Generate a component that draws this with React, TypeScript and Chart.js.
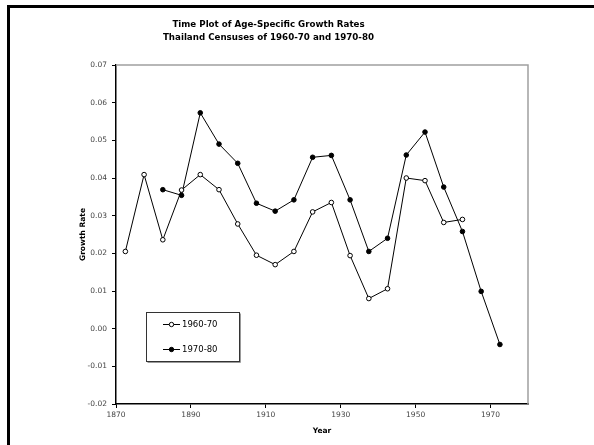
import React, { useEffect, useRef } from "react";
import { Chart, registerables } from "chart.js";

Chart.register(...registerables);

const TITLE_LINES = ["Time Plot of Age-Specific Growth Rates", "Thailand Censuses of 1960-70 and 1970-80"];
const X_TITLE = "Year";
const Y_TITLE = "Growth Rate";
const X_TICKS = [1870, 1890, 1910, 1930, 1950, 1970];

const years6070 = [1872.5, 1877.5, 1882.5, 1887.5, 1892.5, 1897.5, 1902.5, 1907.5, 1912.5, 1917.5, 1922.5, 1927.5, 1932.5, 1937.5, 1942.5, 1947.5, 1952.5, 1957.5, 1962.5];
const rates6070 = [0.0205, 0.0409, 0.0236, 0.0368, 0.0409, 0.0369, 0.0278, 0.0195, 0.0170, 0.0205, 0.0310, 0.0335, 0.0194, 0.0080, 0.0106, 0.0400, 0.0393, 0.0282, 0.0290];

const years7080 = [1882.5, 1887.5, 1892.5, 1897.5, 1902.5, 1907.5, 1912.5, 1917.5, 1922.5, 1927.5, 1932.5, 1937.5, 1942.5, 1947.5, 1952.5, 1957.5, 1962.5, 1967.5, 1972.5];
const rates7080 = [0.0369, 0.0354, 0.0573, 0.0490, 0.0439, 0.0333, 0.0312, 0.0342, 0.0455, 0.0460, 0.0342, 0.0205, 0.0240, 0.0461, 0.0522, 0.0376, 0.0258, 0.0099, -0.0042];

const FONT = "'DejaVu Sans', Verdana, sans-serif";

const decorPlugin = {
  id: "decor",
  beforeDraw(chart: any) {
    const ctx = chart.ctx;
    ctx.save();
    ctx.fillStyle = "#ffffff";
    ctx.fillRect(0, 0, chart.width, chart.height);
    ctx.strokeStyle = "#000000";
    ctx.lineWidth = 3;
    ctx.strokeRect(8.5, 6.5, chart.width + 20, chart.height + 20);
    ctx.restore();
  },
  afterDraw(chart: any) {
    const ctx = chart.ctx;
    const a = chart.chartArea;
    ctx.save();
    ctx.strokeStyle = "#a0a0a0";
    ctx.lineWidth = 1.5;
    ctx.beginPath();
    ctx.moveTo(a.left, a.top);
    ctx.lineTo(a.right, a.top);
    ctx.lineTo(a.right, a.bottom);
    ctx.stroke();
    ctx.fillStyle = "#000000";
    ctx.font = `bold 8.7px ${FONT}`;
    ctx.textAlign = "center";
    ctx.textBaseline = "middle";
    ctx.fillText(TITLE_LINES[0], 268.5, 25);
    ctx.fillText(TITLE_LINES[1], 268.5, 38);
    const bx = 146.5, by = 312.5, bw = 93, bh = 49;
    ctx.strokeStyle = "#333333";
    ctx.lineWidth = 1;
    ctx.strokeRect(bx, by, bw, bh);
    ctx.strokeStyle = "#999999";
    ctx.beginPath();
    ctx.moveTo(bx + 1, by + bh + 1);
    ctx.lineTo(bx + bw + 1, by + bh + 1);
    ctx.lineTo(bx + bw + 1, by + 1);
    ctx.stroke();
    const items = chart.data.datasets;
    const rowsY = [324, 349];
    items.forEach((ds: any, i: number) => {
      const y = rowsY[i];
      ctx.strokeStyle = "#000000";
      ctx.lineWidth = 1;
      ctx.beginPath();
      ctx.moveTo(163, y + 0.5);
      ctx.lineTo(180, y + 0.5);
      ctx.stroke();
      ctx.beginPath();
      ctx.arc(171.5, y + 0.5, 2.2, 0, Math.PI * 2);
      ctx.fillStyle = ds.pointBackgroundColor;
      ctx.fill();
      ctx.stroke();
      ctx.fillStyle = "#000000";
      ctx.font = `8.5px ${FONT}`;
      ctx.textAlign = "left";
      ctx.textBaseline = "middle";
      ctx.fillText(ds.label, 182, y + 0.5);
    });
    ctx.restore();
  },
};

export default function App() {
  const ref = useRef<HTMLCanvasElement>(null);
  useEffect(() => {
    document.body.style.margin = "0";
    const chart = new Chart(ref.current as HTMLCanvasElement, {
      type: "line",
      data: {
        datasets: [
          {
            label: "1960-70",
            data: years6070.map((x, i) => ({ x, y: rates6070[i] })),
            borderColor: "#000000",
            borderWidth: 1,
            pointBackgroundColor: "#ffffff",
            pointBorderColor: "#000000",
            pointBorderWidth: 1,
            pointRadius: 2.3,
            tension: 0,
          },
          {
            label: "1970-80",
            data: years7080.map((x, i) => ({ x, y: rates7080[i] })),
            borderColor: "#000000",
            borderWidth: 1,
            pointBackgroundColor: "#000000",
            pointBorderColor: "#000000",
            pointBorderWidth: 1,
            pointRadius: 2.3,
            tension: 0,
          },
        ],
      },
      options: {
        animation: false,
        responsive: false,
        devicePixelRatio: 1,
        layout: { padding: { left: 70, top: 65, right: 66, bottom: 5 } },
        plugins: { legend: { display: false }, tooltip: { enabled: false }, title: { display: false } },
        scales: {
          x: {
            type: "linear",
            min: 1870,
            max: 1980,
            afterBuildTicks: (s: any) => {
              s.ticks = X_TICKS.map((v) => ({ value: v }));
            },
            afterFit: (s: any) => {
              s.height = 36;
            },
            grid: { drawOnChartArea: false, tickLength: 4, color: "#000000", tickWidth: 1 },
            border: { color: "#000000", width: 1.5 },
            ticks: { color: "#444444", font: { family: FONT, size: 7.5 }, padding: 3, maxRotation: 0, callback: (v: any) => String(v) },
            title: { display: true, text: X_TITLE, color: "#000000", font: { family: FONT, size: 7.5, weight: "bold" }, padding: { top: 0, bottom: 4 } },
          },
          y: {
            type: "linear",
            min: -0.02,
            max: 0.07,
            afterBuildTicks: (s: any) => {
              const t = [];
              for (let i = -2; i <= 7; i++) t.push({ value: i / 100 });
              s.ticks = t;
            },
            afterFit: (s: any) => {
              s.width = 46;
            },
            grid: { drawOnChartArea: false, tickLength: 4, color: "#000000", tickWidth: 1 },
            border: { color: "#000000", width: 1.5 },
            ticks: { color: "#444444", font: { family: FONT, size: 7.5 }, padding: 5, callback: (v: any) => Number(v).toFixed(2) },
            title: { display: true, text: Y_TITLE, color: "#000000", font: { family: FONT, size: 7.5, weight: "bold" }, padding: { top: 9, bottom: 0 } },
          },
        },
      },
      plugins: [decorPlugin],
    });
    return () => chart.destroy();
  }, []);
  return (
    <div style={{ position: "fixed", left: 0, top: 0, width: 594, height: 445 }}>
      <canvas ref={ref} width={594} height={445} style={{ width: 594, height: 445, display: "block" }} />
    </div>
  );
}
